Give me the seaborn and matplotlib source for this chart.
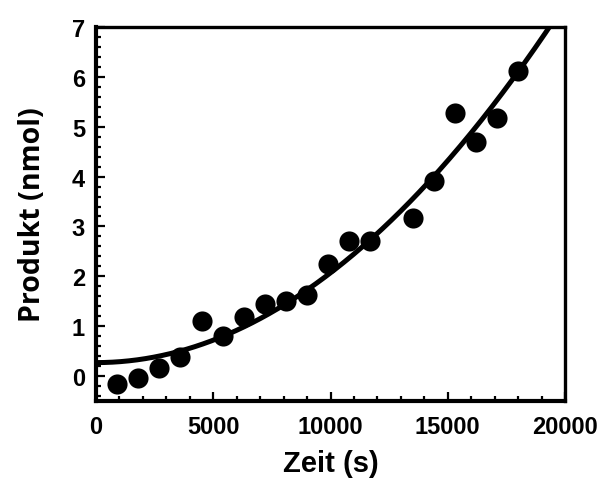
import numpy as np
import pandas as pd
import matplotlib
matplotlib.use("Agg")
import matplotlib.pyplot as plt
import seaborn as sns
from matplotlib.ticker import MultipleLocator

# Data
zeit_s = [900, 1800, 2700, 3600, 4500, 5400, 6300, 7200, 8100, 9000,
          9900, 10800, 11700, 13500, 14400, 15300, 16200, 17100, 18000]
produkt_nmol = [-0.16, -0.03, 0.17, 0.39, 1.11, 0.81, 1.19, 1.44, 1.51, 1.63,
                2.25, 2.71, 2.71, 3.16, 3.92, 5.27, 4.69, 5.17, 6.12]

# Fitted curve parameters (y = offset + coef * t^2)
fit_offset = 0.27
fit_coef = 1.80e-8

x_ticks = [0, 5000, 10000, 15000, 20000]
y_ticks = [0, 1, 2, 3, 4, 5, 6, 7]

sns.set_style("ticks", {"axes.edgecolor": "black", "text.color": "black",
                        "xtick.color": "black", "ytick.color": "black",
                        "axes.labelcolor": "black"})
plt.rcParams['font.family'] = ['Liberation Sans', 'DejaVu Sans']
plt.rcParams['font.weight'] = 'bold'

df = pd.DataFrame({"Zeit": zeit_s, "Produkt": produkt_nmol})
t_fit = np.linspace(0, 20000, 400)
df_fit = pd.DataFrame({"Zeit": t_fit, "Produkt": fit_offset + fit_coef * t_fit ** 2})

fig = plt.figure(figsize=(5.99, 4.85), dpi=100)
ax = fig.add_axes([96 / 599, 1 - 402 / 485, (565 - 96) / 599, (402 - 28) / 485])

sns.lineplot(data=df_fit, x="Zeit", y="Produkt", ax=ax, color="black", lw=3.6)
sns.scatterplot(data=df, x="Zeit", y="Produkt", ax=ax, color="black", s=210,
                edgecolor="black", linewidth=0, zorder=3)

ax.set_xlim(0, 20000)
ax.set_ylim(-0.5, 7)
ax.set_xticks(x_ticks)
ax.set_yticks(y_ticks)
ax.xaxis.set_minor_locator(MultipleLocator(1000))
ax.yaxis.set_minor_locator(MultipleLocator(0.2))
ax.tick_params(which="major", direction="in", length=6.5, width=1.6,
               labelsize=17, top=False, right=False, colors="black")
ax.tick_params(which="minor", direction="in", length=3.5, width=1.6,
               top=False, right=False, colors="black")
ax.tick_params(axis="x", pad=10)
ax.tick_params(axis="y", pad=8)
for lab in ax.get_xticklabels() + ax.get_yticklabels():
    lab.set_fontweight("bold")
    lab.set_color("black")

for side in ["left", "bottom"]:
    ax.spines[side].set_linewidth(3.0)
    ax.spines[side].set_color("black")
for side in ["top", "right"]:
    ax.spines[side].set_linewidth(2.4)
    ax.spines[side].set_visible(True)
    ax.spines[side].set_color("black")

ax.set_xlabel("Zeit (s)", fontsize=21, fontweight="bold", labelpad=8,
              color="black")
ax.set_ylabel("Produkt (nmol)", fontsize=20.5, fontweight="bold",
              family=["Open Sans", "DejaVu Sans"], labelpad=18, color="black")

fig.savefig("out.png", dpi=100)
